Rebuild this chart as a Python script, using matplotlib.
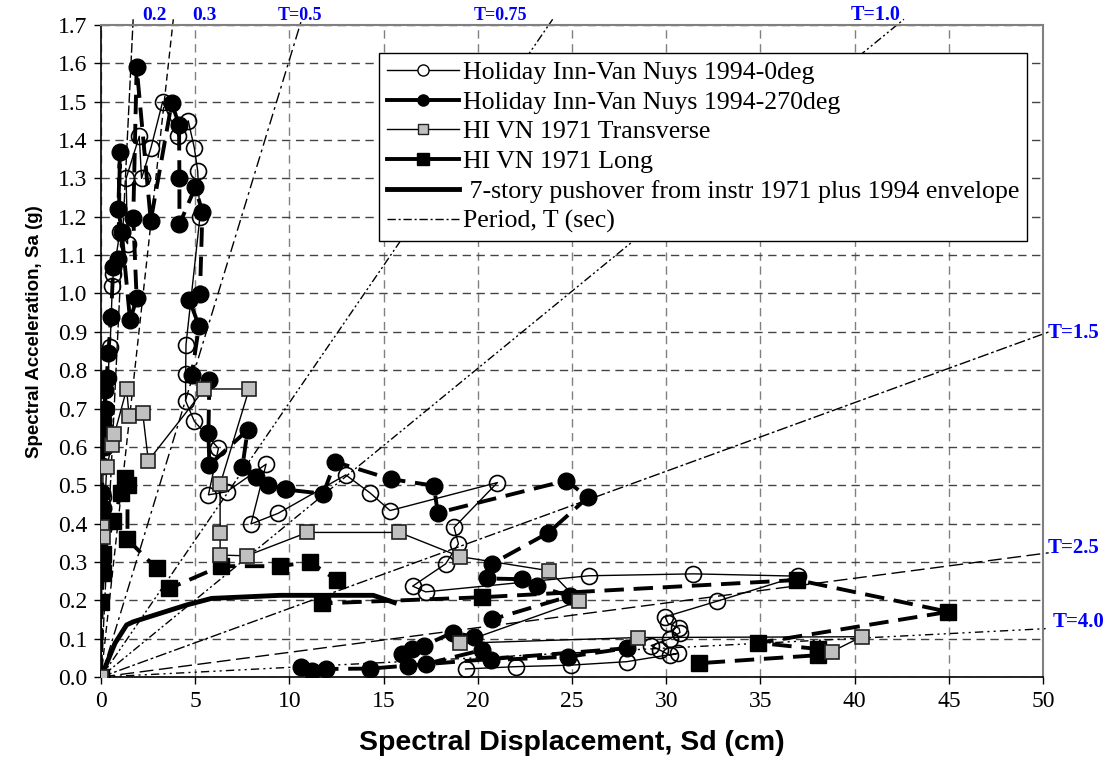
import numpy as np
import matplotlib.pyplot as plt
from matplotlib.lines import Line2D

# Holiday Inn-Van Nuys 1994-0deg (Sd cm, Sa g)
sd_0deg = [0.0, 0.05, 0.1, 0.1, 0.2, 0.25, 0.35, 0.48, 0.6, 0.65, 1.0, 1.41, 1.33, 2.03, 2.15, 2.65,
           3.27, 4.1, 4.63, 4.95, 5.13, 5.25, 4.51, 4.49, 4.49, 4.95, 6.23, 5.70, 6.67, 8.76, 7.96, 9.41,
           12.99, 14.28, 15.34, 21.04, 18.74, 18.97, 18.29, 16.54, 17.23, 25.9, 31.44, 37.0, 32.72, 29.94,
           30.1, 30.68, 30.73, 30.2, 29.2, 29.67, 30.2, 30.64, 27.9, 24.95, 22.0, 19.35]
sa_0deg = [0.0, 0.44, 0.47, 0.55, 0.60, 0.70, 0.78, 0.86, 1.02, 1.05, 1.16, 1.13, 1.30, 1.41, 1.30, 1.38,
           1.50, 1.41, 1.45, 1.38, 1.32, 1.20, 0.867, 0.79, 0.72, 0.667, 0.596, 0.475, 0.483, 0.555, 0.399, 0.427,
           0.527, 0.48, 0.434, 0.507, 0.39, 0.347, 0.295, 0.237, 0.222, 0.264, 0.269, 0.263, 0.198, 0.157,
           0.14, 0.127, 0.116, 0.10, 0.082, 0.07, 0.057, 0.062, 0.04, 0.031, 0.027, 0.021]

# Holiday Inn-Van Nuys 1994-270deg
sd_270 = [0.0, 0.05, 0.1, 0.05, 0.12, 0.15, 0.12, 0.2, 0.2, 0.3, 0.39, 0.53, 0.65, 0.92, 1.0, 0.92,
          1.1, 1.54, 1.89, 1.71, 1.89, 2.64, 3.75, 4.14, 4.16, 4.16, 5.0, 5.38, 5.25, 4.69, 5.2, 4.81,
          5.75, 5.7, 5.75, 7.78, 7.5, 8.21, 8.88, 9.8, 9.77, 11.8, 12.42, 15.38, 17.67, 17.87, 24.68,
          25.85, 23.74, 20.74, 20.47, 22.36, 23.12, 24.89, 20.74, 19.77, 18.67, 17.14, 16.49, 15.96,
          16.27, 17.23, 20.2, 20.68, 24.8, 27.9, 14.28, 11.93, 11.18, 10.6]
sa_270 = [0.0, 0.30, 0.44, 0.48, 0.60, 0.65, 0.67, 0.70, 0.748, 0.78, 0.844, 0.94, 1.07, 1.09, 1.37, 1.22,
          1.16, 0.93, 0.987, 1.198, 1.59, 1.19, 1.497, 1.44, 1.30, 1.18, 1.277, 1.212, 0.998, 0.983, 0.915, 0.787,
          0.774, 0.637, 0.553, 0.644, 0.547, 0.521, 0.50, 0.49, 0.489, 0.478, 0.561, 0.516, 0.499, 0.428, 0.512,
          0.469, 0.376, 0.295, 0.257, 0.255, 0.237, 0.211, 0.15, 0.105, 0.116, 0.082, 0.074, 0.06,
          0.03, 0.034, 0.07, 0.044, 0.053, 0.075, 0.022, 0.021, 0.016, 0.027]

# HI VN 1971 Transverse
sd_trans = [0.0, 0.04, 0.12, 0.3, 0.57, 0.71, 1.36, 1.49, 2.21, 2.51, 5.49, 7.86, 6.32, 6.32, 6.32,
            7.73, 10.95, 15.83, 19.05, 23.8, 25.37, 19.05, 28.52, 40.37, 38.78]
sa_trans = [0.0, 0.392, 0.364, 0.547, 0.605, 0.633, 0.751, 0.68, 0.689, 0.564, 0.751, 0.751, 0.502, 0.376, 0.318,
            0.316, 0.377, 0.377, 0.314, 0.277, 0.198, 0.088, 0.103, 0.105, 0.066]

# HI VN 1971 Long
sd_long = [0.0, 0.0, 0.12, 0.12, 0.65, 1.06, 1.27, 1.41, 1.4, 2.95, 3.63, 6.35, 9.5, 11.09, 12.5,
           11.71, 20.2, 36.96, 44.98, 34.89, 38.07, 38.07, 31.74]
sa_long = [0.0, 0.196, 0.27, 0.322, 0.407, 0.479, 0.518, 0.50, 0.359, 0.283, 0.231, 0.289, 0.289, 0.30, 0.253,
           0.192, 0.208, 0.253, 0.170, 0.089, 0.073, 0.057, 0.036]

# 7-story pushover
sd_push = [0.0, 0.74, 1.36, 1.71, 4.55, 5.87, 9.5, 14.45, 15.69]
sa_push = [0.0, 0.088, 0.136, 0.144, 0.188, 0.205, 0.213, 0.213, 0.192]

# period lines
periods = [0.2, 0.3, 0.5, 0.75, 1.0, 1.5, 2.5, 4.0]
period_labels = ['0.2', '0.3', 'T=0.5', 'T=0.75', 'T=1.0', 'T=1.5', 'T=2.5', 'T=4.0']
label_x = [2.2, 4.85, 9.4, 19.8, 39.8, 50.27, 50.27, 50.5]
label_y = [1.725, 1.725, 1.725, 1.725, 1.725, 0.897, 0.336, 0.143]
label_size = [14, 14, 13, 13, 14.5, 15, 15, 15]
period_dashes = [(7, 2), (5, 3), (8, 3, 2, 3), (6, 2, 1.5, 2, 1.5, 2), (6, 2, 1.5, 2, 1.5, 2),
                 (8, 2, 2, 2), (10, 4), (6, 3, 1.5, 3, 1.5, 3)]

serif = ['Liberation Serif', 'DejaVu Serif']
sans = ['Liberation Sans', 'DejaVu Sans']

fig = plt.figure(figsize=(11.14, 7.65), dpi=100)
ax = fig.add_axes([0.0907, 0.115, 0.8456, 0.8523])

g = 981.0
for T, ds in zip(periods, period_dashes):
    k = (2 * np.pi / T) ** 2 / g
    x_end = min(1.715 / k, 50.3)
    ax.plot([0, x_end], [0, k * x_end], color='black', lw=1.0, dashes=ds, clip_on=False, zorder=2)

for lab, x, y, fs in zip(period_labels, label_x, label_y, label_size):
    ax.text(x, y, lab, color='#0000ff', fontsize=fs, fontweight='bold', family=serif,
            ha='left', va='center', clip_on=False)

ax.plot(sd_0deg, sa_0deg, color='black', lw=1.0, marker='o', ms=11.5, mfc='none', mec='black', mew=1.2, zorder=3)
ax.plot(sd_270, sa_270, color='black', lw=2.8, dashes=(5, 2.5), marker='o', ms=12, mfc='black', mec='black', zorder=4)
ax.plot(sd_trans, sa_trans, color='black', lw=1.0, marker='s', ms=10, mfc='#c0c0c0', mec='#222222', mew=1.2, zorder=5)
ax.plot(sd_long, sa_long, color='black', lw=2.8, dashes=(5, 2.5), marker='s', ms=11, mfc='black', mec='black', zorder=4)
ax.plot(sd_push, sa_push, color='black', lw=3.5, solid_capstyle='butt', zorder=4)

ax.set_xlim(0, 50)
ax.set_ylim(0, 1.7)
ax.set_xticks(np.arange(0, 51, 5))
ax.set_yticks(np.arange(0, 1.71, 0.1))
ax.set_yticklabels([f'{v:.1f}' for v in np.arange(0, 1.71, 0.1)])
for t in ax.get_xticklabels() + ax.get_yticklabels():
    t.set_family(serif)
    t.set_fontsize(17)
ax.tick_params(direction='out', length=5, width=1)
ax.tick_params(axis='x', pad=5)
ax.tick_params(axis='y', pad=5)

ax.xaxis.grid(True, color='#808080', lw=1.0, dashes=(6, 4))
ax.yaxis.grid(True, color='#444444', lw=1.0, dashes=(6, 4))
ax.set_axisbelow(True)

for s in ['left', 'bottom']:
    ax.spines[s].set_color('black')
    ax.spines[s].set_linewidth(1.2)
for s in ['top', 'right']:
    ax.spines[s].set_color('#808080')
    ax.spines[s].set_linewidth(1.5)

ax.set_xlabel('Spectral Displacement, Sd (cm)', fontsize=20.5, fontweight='bold', family=sans, labelpad=13)
ax.set_ylabel('Spectral Acceleration, Sa (g)', fontsize=13.5, fontweight='bold', family=sans)
ax.yaxis.set_label_coords(-0.062, 0.53)

handles = [
    Line2D([], [], color='black', lw=1.0, marker='o', ms=8, mfc='white', mec='black'),
    Line2D([], [], color='black', lw=2.8, marker='o', ms=8, mfc='black', mec='black'),
    Line2D([], [], color='black', lw=1.0, marker='s', ms=7, mfc='#c0c0c0', mec='#222222'),
    Line2D([], [], color='black', lw=2.8, marker='s', ms=8, mfc='black', mec='black'),
    Line2D([], [], color='black', lw=3.5),
    Line2D([], [], color='black', lw=1.0, dashes=(6, 2, 1.5, 2)),
]
labels = ['Holiday Inn-Van Nuys 1994-0deg', 'Holiday Inn-Van Nuys 1994-270deg', 'HI VN 1971 Transverse',
          'HI VN 1971 Long', ' 7-story pushover from instr 1971 plus 1994 envelope', 'Period, T (sec)']
leg = ax.legend(handles, labels, loc='upper right', bbox_to_anchor=(0.983, 0.957), borderaxespad=0,
                prop={'family': serif, 'size': 18.6}, frameon=True, fancybox=False, framealpha=1,
                edgecolor='black', handlelength=2.8, handletextpad=0.15, labelspacing=0.26, borderpad=0.3)
leg.get_frame().set_linewidth(1.0)
leg.set_zorder(10)

fig.savefig('out.png', dpi=100)
